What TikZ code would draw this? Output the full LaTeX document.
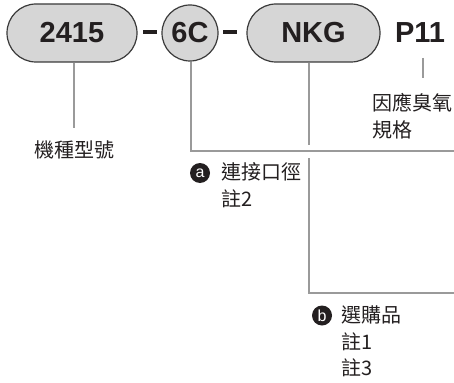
\documentclass[tikz,border=0pt]{standalone}
\usepackage{fontspec}
\setmainfont{Liberation Sans}
\newfontfamily\cjk{Noto Sans CJK TC}
\definecolor{pillfill}{HTML}{D6D6D6}
\definecolor{pilldraw}{HTML}{3A3A3A}
\definecolor{leader}{HTML}{9A9A9A}
\definecolor{ink}{HTML}{231F20}
\tikzset{
  pill/.style={draw=pilldraw, fill=pillfill, line width=1.2pt, rounded corners=29pt,
    minimum height=58pt, inner sep=0pt, text=ink, font=\bfseries\fontsize{29}{30}\selectfont},
  roundcode/.style={draw=pilldraw, fill=pillfill, line width=1.2pt, circle,
    minimum size=56pt, inner sep=0pt, text=ink, font=\bfseries\fontsize{29}{30}\selectfont},
  codetext/.style={inner sep=0pt, text=ink, font=\bfseries\fontsize{29}{30}\selectfont},
  dashbar/.style={fill=ink, draw=none, minimum width=14pt, minimum height=4pt, inner sep=0pt},
  leaderline/.style={draw=leader, line width=2pt},
  note/.style={inner sep=0pt, anchor=west, text=ink, font=\cjk\fontsize{20}{24}\selectfont},
  badge/.style={circle, fill=ink, minimum size=20pt, inner sep=0pt, text=white,
    font=\fontsize{16}{16}\selectfont}
}
\begin{document}
\begin{tikzpicture}[x=1pt,y=-1pt]
\useasboundingbox (0,0) rectangle (454,382);
% code parts
\node[pill, minimum width=130pt] (n2415) at (72,33) {2415};
\node[dashbar] (d1) at (150,32) {};
\node[roundcode] (n6c) at (190,33) {6C};
\node[dashbar] (d2) at (230,32) {};
\node[pill, minimum width=133pt] (nnkg) at (313.5,33) {NKG};
\node[codetext] (np11) at (420,33) {P11};
% labels
\node[note, anchor=center] (lmodel) at (74,150) {機種型號};
\node[note] (lozone1) at (372,103) {因應臭氧};
\node[note] (lozone2) at (372,130) {規格};
\node[badge] (ba) at (200,173) {a};
\node[note] (la1) at (221,172) {連接口徑};
\node[note] (la2) at (221,199) {註2};
\node[badge] (bb) at (322,315.5) {b};
\node[note] (lb1) at (341,315) {選購品};
\node[note] (lb2) at (341,342) {註1};
\node[note] (lb3) at (341,368) {註3};
% leader coordinates
\coordinate (e1) at (74,128);
\coordinate (c6) at (191,151);
\coordinate (r6) at (454,151);
\coordinate (gapa) at (309,145);
\coordinate (gapb) at (309,158);
\coordinate (cn) at (309,293);
\coordinate (rn) at (454,293);
\coordinate (sp) at (423,58);
\coordinate (ep) at (423,78);
% leaders
\draw[leaderline] (e1 |- n2415.south) -- (e1);
\draw[leaderline] (c6 |- n6c.south) -- (c6) -- (r6);
\draw[leaderline] (gapa |- nnkg.south) -- (gapa);
\draw[leaderline] (gapb) -- (cn) -- (rn);
\draw[leaderline] (sp) -- (ep);
\end{tikzpicture}
\end{document}
